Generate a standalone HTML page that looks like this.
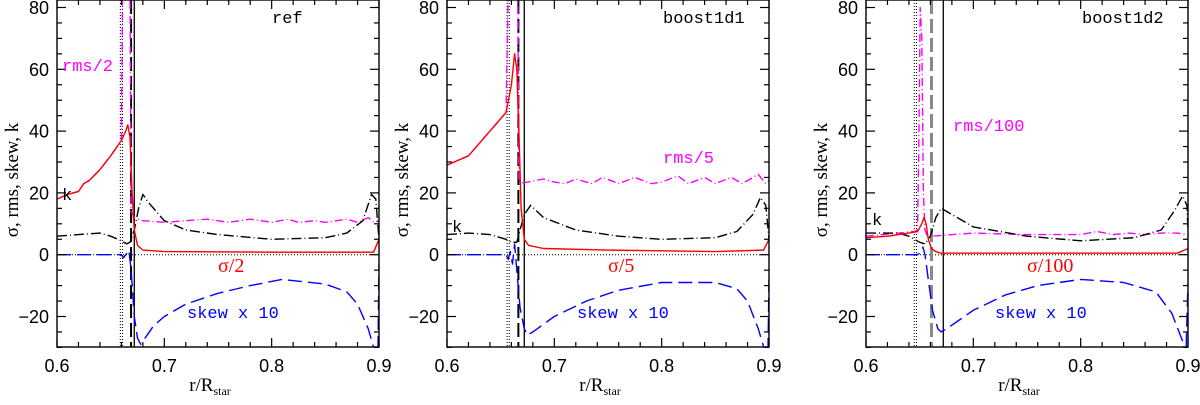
<!DOCTYPE html>
<html><head><meta charset="utf-8"><style>
html,body{margin:0;padding:0;background:#fff;}
svg{display:block;font-family:"Liberation Sans","DejaVu Sans",sans-serif;}
</style></head><body>
<svg id="fig" width="1200" height="405" viewBox="0 0 1200 405" xmlns="http://www.w3.org/2000/svg"></svg>
<script>
// ---- data (r values and curve values per panel) ----
const panelNames = ["ref","boost1d1","boost1d2"];
const xTicks = [0.6,0.7,0.8,0.9];
const xTickLabels = ["0.6","0.7","0.8","0.9"];
const yTicks = [-20,0,20,40,60,80];
const yTickLabels = ["\u221220","0","20","40","60","80"];

const p1SigmaR = [0.6,0.61,0.62,0.625,0.63,0.64,0.65,0.66,0.664,0.666,0.668,0.67,0.672,0.675,0.68,0.7,0.8,0.895,0.9];
const p1SigmaV = [18,19.5,20.5,23,24,27.5,32,37,40,42,38,20,8,3,1.5,1,0.8,0.8,5];
const p1RmsR = [0.6,0.61,0.62,0.625,0.63,0.64,0.65,0.66,0.661,0.663,0.668,0.669,0.672,0.68,0.7,0.72,0.74,0.76,0.78,0.8,0.815,0.825,0.84,0.85,0.87,0.88,0.89,0.895,0.9];
const p1RmsV = [18,19.5,20.5,23,24,27.5,32,37,85,85,85,14,12,11,10.5,11,11.5,10.5,11.5,10.5,11.5,10.5,11,10.5,11.5,10.5,12,10.5,11];
const p1KR = [0.6,0.62,0.64,0.65,0.66,0.665,0.668,0.672,0.676,0.68,0.685,0.7,0.72,0.75,0.8,0.85,0.87,0.885,0.893,0.897,0.9];
const p1KV = [6,6.5,7,6,4.5,3.5,4,8,15,19.5,17,11,8,6.5,5,5.5,7,11,19.5,18,5];
const p1SkewR = [0.6,0.66,0.662,0.665,0.667,0.669,0.672,0.675,0.678,0.68,0.69,0.7,0.72,0.75,0.78,0.81,0.85,0.87,0.88,0.89,0.895,0.899,0.9];
const p1SkewV = [0,0,-1,0.5,1.5,-5,-20,-27,-29,-28,-23,-20,-16,-12.5,-10,-8,-9.5,-12,-16,-24,-30,-33,-3];
const p1VDot = [0.659,0.661], p1VDash = 0.669, p1VSolid = 0.672;

const p2SigmaR = [0.6,0.62,0.64,0.655,0.66,0.663,0.665,0.667,0.669,0.672,0.676,0.69,0.75,0.85,0.895,0.9];
const p2SigmaV = [29,32,40,46,55,65,60,40,15,5,3,2,1.5,1,1.5,5];
const p2RmsR = [0.6,0.62,0.64,0.655,0.657,0.666,0.667,0.668,0.69,0.7,0.71,0.72,0.735,0.745,0.76,0.775,0.79,0.8,0.815,0.825,0.84,0.85,0.865,0.875,0.89,0.897,0.9];
const p2RmsV = [29,32,40,46,85,85,24,23,24.5,23.5,23,24.5,23,25,23,25,23,23.5,25.5,23,25,23,25,23,26,23,24];
const p2KR = [0.6,0.62,0.64,0.655,0.66,0.665,0.668,0.672,0.678,0.69,0.72,0.76,0.8,0.85,0.87,0.885,0.892,0.897,0.9];
const p2KV = [6.5,7,6.5,5,4,4,8,13,16,12,8,6,5,5.5,7.5,13,18.5,16,5];
const p2SkewR = [0.6,0.655,0.657,0.659,0.661,0.663,0.665,0.668,0.672,0.675,0.68,0.7,0.73,0.76,0.8,0.85,0.87,0.88,0.89,0.896,0.899,0.9];
const p2SkewV = [0,0,-1.5,1,-3,3.5,-5,-17,-24,-26,-25,-20,-15,-11.5,-9,-9,-11,-15,-24,-31,-33,-8];
const p2VDot = [0.656,0.658], p2VDash = 0.6665, p2VSolid = 0.672;

const p3SigmaR = [0.6,0.62,0.64,0.648,0.652,0.654,0.656,0.658,0.661,0.665,0.67,0.89,0.9];
const p3SigmaV = [5.5,6,7,7.5,10,12,10,5,2,1,0.5,0.5,2];
const p3RmsR = [0.6,0.645,0.648,0.649,0.6505,0.652,0.6535,0.655,0.657,0.66,0.7,0.75,0.8,0.815,0.83,0.845,0.86,0.875,0.89,0.9];
const p3RmsV = [6,7.5,8,30,80,70,20,8,6,6,7,6.5,6.5,7.5,6.5,7,6.5,7,7,6.5];
const p3KR = [0.6,0.63,0.64,0.65,0.655,0.66,0.665,0.67,0.68,0.7,0.75,0.8,0.85,0.875,0.887,0.895,0.899,0.9];
const p3KV = [7,7,6,4,3.5,6,12,15,13,9,6,4.5,5.5,8,14,19,16,8];
const p3SkewR = [0.6,0.648,0.652,0.653,0.655,0.658,0.662,0.667,0.67,0.675,0.7,0.73,0.76,0.8,0.84,0.87,0.885,0.895,0.898,0.9];
const p3SkewV = [0,0,1,2.5,0,-8,-18,-24,-25,-24,-18,-13,-10,-8,-9,-12,-19,-28,-33,-9];
const p3VDot = [0.645,0.647], p3VDash = 0.661, p3VSolid = 0.672;

const NS = "http://www.w3.org/2000/svg";
const svg = document.getElementById("fig");
const lefts = [57,447,866], W = 322, TOP = 0, BOT = 347;
function mk(tag, attrs, parent){const e=document.createElementNS(NS,tag);for(const k in attrs)e.setAttribute(k,attrs[k]);(parent||svg).appendChild(e);return e;}
function yScale(v){return 254.7 - v*3.09;}

const panels = [
 {sR:p1SigmaR,sV:p1SigmaV,rR:p1RmsR,rV:p1RmsV,kR:p1KR,kV:p1KV,wR:p1SkewR,wV:p1SkewV,vd:p1VDot,vda:p1VDash,vs:p1VSolid,dashCol:"#000",dashW:2,
  labels:[["ref",272,23,"#000","name-label"],["rms/2",62,71,"#f0f","rms-label"],["k",62,200,"#000","k-label"],["\u03c3/2",218,272,"#f00","sigma-label"],["skew x 10",187,318,"#00f","skew-label"]]},
 {sR:p2SigmaR,sV:p2SigmaV,rR:p2RmsR,rV:p2RmsV,kR:p2KR,kV:p2KV,wR:p2SkewR,wV:p2SkewV,vd:p2VDot,vda:p2VDash,vs:p2VSolid,dashCol:"#000",dashW:2,
  labels:[["boost1d1",663,23,"#000","name-label"],["rms/5",663,163,"#f0f","rms-label"],["k",452,232,"#000","k-label"],["\u03c3/5",608,272,"#f00","sigma-label"],["skew x 10",577,318,"#00f","skew-label"]]},
 {sR:p3SigmaR,sV:p3SigmaV,rR:p3RmsR,rV:p3RmsV,kR:p3KR,kV:p3KV,wR:p3SkewR,wV:p3SkewV,vd:p3VDot,vda:p3VDash,vs:p3VSolid,dashCol:"#888",dashW:3,
  labels:[["boost1d2",1082,23,"#000","name-label"],["rms/100",953,131,"#f0f","rms-label"],["k",872,225,"#000","k-label"],["\u03c3/100",1027,272,"#f00","sigma-label"],["skew x 10",995,318,"#00f","skew-label"]]}
];

panels.forEach((p,i)=>{
  const L = lefts[i];
  const xs = r => L + (r-0.6)/0.3*W;
  const g = mk("g",{});
  
  
  const cid = "clip"+i;
  const cp = mk("clipPath",{id:cid},g); mk("rect",{x:L,y:TOP,width:W,height:BOT-TOP},cp);
  const plot = mk("g",{"clip-path":"url(#"+cid+")"},g);
  const z = mk("line",{x1:L,x2:L+W,y1:yScale(0),y2:yScale(0),stroke:"#000","stroke-width":1,"stroke-dasharray":"1,2"},plot);
  
  
  p.vd.forEach(r=>{const l=mk("line",{x1:xs(r),x2:xs(r),y1:TOP,y2:BOT,stroke:"#000","stroke-width":1,"stroke-dasharray":"1,2"},plot);
    
    });
  const vda = mk("line",{x1:xs(p.vda),x2:xs(p.vda),y1:TOP,y2:BOT,stroke:p.dashCol,"stroke-width":p.dashW,"stroke-dasharray":"14,5"},plot);
  
  
  const vs = mk("line",{x1:xs(p.vs),x2:xs(p.vs),y1:TOP,y2:BOT,stroke:"#000","stroke-width":1.3},plot);
  
  
  function curve(R,V,col,dash,name){
    const d = R.map((r,j)=>(j?"L":"M")+xs(r).toFixed(1)+","+yScale(V[j]).toFixed(1)).join(" ");
    const e = mk("path",{d:d,fill:"none",stroke:col,"stroke-width":1.4,"stroke-dasharray":dash,"stroke-linejoin":"round"},plot);
    
    
  }
  curve(p.rR,p.rV,"#f0f","8,3,1,3","rms-curve");
  curve(p.kR,p.kV,"#000","10,3,1,3","k-curve");
  curve(p.wR,p.wV,"#00f","14,6","skew-curve");
  curve(p.sR,p.sV,"#f00","","sigma-curve");
  const fr = mk("rect",{x:L,y:TOP,width:W,height:BOT-TOP,fill:"none",stroke:"#000","stroke-width":1.4},g);
  
  
  for(let r=0.6;r<=0.9001;r+=0.02){const x=xs(r);const maj=Math.abs(Math.round(r*10)-r*10)<1e-6;const len=maj?9:5;
    mk("line",{x1:x,x2:x,y1:BOT,y2:BOT-len,stroke:"#000","stroke-width":1.2},g);
    mk("line",{x1:x,x2:x,y1:TOP,y2:TOP+len,stroke:"#000","stroke-width":1.2},g);}
  xTicks.forEach((r,j)=>{const t=mk("text",{x:xs(r),y:372,"font-size":18,"text-anchor":"middle",fill:"#000"},g);t.textContent=xTickLabels[j];
    
    });
  for(let v=-30;v<=80;v+=5){const y=yScale(v);const len=(v%20===0)?9:5;
    mk("line",{x1:L,x2:L+len,y1:y,y2:y,stroke:"#000","stroke-width":1.2},g);
    mk("line",{x1:L+W,x2:L+W-len,y1:y,y2:y,stroke:"#000","stroke-width":1.2},g);}
  yTicks.forEach((v,j)=>{const t=mk("text",{x:L-8,y:yScale(v)+6.5,"font-size":18,"text-anchor":"end",fill:"#000"},g);t.textContent=yTickLabels[j];
    
    });
  const yt = mk("text",{x:0,y:0,"font-size":19,"text-anchor":"middle",fill:"#000","font-family":"Liberation Serif, serif",transform:"translate("+(L-39)+",180) rotate(-90)"},g);
  yt.textContent="\u03c3, rms, skew, k";
  
  
  const xt = mk("text",{x:L+W/2-8,y:391,"font-size":19,"text-anchor":"middle",fill:"#000","font-family":"Liberation Serif, serif"},g);
  xt.textContent="r/R";
  const sub = mk("tspan",{"font-size":12,dy:4},xt); sub.textContent="star";
  
  
  p.labels.forEach(lb=>{const t=mk("text",{x:lb[1],y:lb[2],"font-size":lb[4]==="sigma-label"?20:17,fill:lb[3],"font-family":lb[4]==="sigma-label"?"Liberation Serif, serif":"Liberation Mono, monospace"},g);
    t.textContent=lb[0];
    
    });
});
</script>
</body></html>
